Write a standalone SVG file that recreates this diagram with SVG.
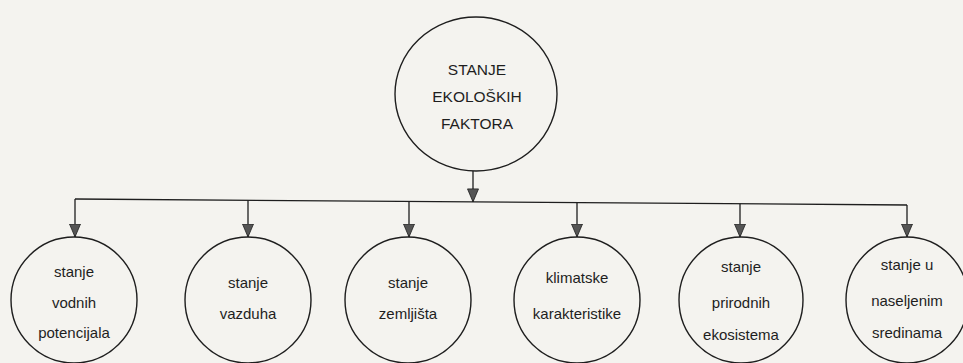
<svg xmlns="http://www.w3.org/2000/svg" width="963" height="363" viewBox="0 0 963 363">
<defs>
<style>
.bg{fill:#f4f3ef}
.node{fill:none;stroke:#1e1e1e;stroke-width:1.4}
.t{font-family:"Liberation Sans",Arial,sans-serif;font-size:15px;fill:#1e1e1e;text-anchor:middle}
.tt{font-family:"Liberation Sans",Arial,sans-serif;font-size:15.5px;fill:#1e1e1e;text-anchor:middle}
.c{fill:none;stroke:#1e1e1e;stroke-width:1.3}
</style>
<marker id="ah" markerWidth="14" markerHeight="12" viewBox="0 0 14 12" refX="13.5" refY="6" orient="auto" markerUnits="userSpaceOnUse">
<path d="M0.5,0.5 L0.5,11.5 L13.5,6 Z" fill="#555" stroke="#1e1e1e" stroke-width="0.8"/>
</marker>
</defs>
<rect class="bg" x="0" y="0" width="963" height="363"/>
<g id="connectors">
<line class="c" x1="473" y1="171" x2="473" y2="201.9" marker-end="url(#ah)"/>
<line class="c" x1="75" y1="199" x2="907" y2="205"/>
<line class="c" x1="75" y1="199" x2="75" y2="237" marker-end="url(#ah)"/>
<line class="c" x1="248" y1="200.2" x2="248" y2="237" marker-end="url(#ah)"/>
<line class="c" x1="409" y1="201.4" x2="409" y2="237" marker-end="url(#ah)"/>
<line class="c" x1="577" y1="202.6" x2="577" y2="237" marker-end="url(#ah)"/>
<line class="c" x1="740" y1="203.8" x2="740" y2="237" marker-end="url(#ah)"/>
<line class="c" x1="907" y1="205" x2="907" y2="237" marker-end="url(#ah)"/>
</g>
<g id="root">
<ellipse class="node" cx="476" cy="94" rx="81" ry="77"/>
<text class="tt" x="477" y="75">STANJE</text>
<text class="tt" x="477" y="102">EKOLOŠKIH</text>
<text class="tt" x="477" y="129">FAKTORA</text>
</g>
<g id="n1">
<ellipse class="node" cx="74" cy="300" rx="63" ry="63"/>
<text class="t" x="74" y="277">stanje</text>
<text class="t" x="74" y="308">vodnih</text>
<text class="t" x="74" y="338">potencijala</text>
</g>
<g id="n2">
<ellipse class="node" cx="248" cy="300" rx="63" ry="63"/>
<text class="t" x="248" y="288">stanje</text>
<text class="t" x="248" y="319">vazduha</text>
</g>
<g id="n3">
<ellipse class="node" cx="408" cy="300" rx="63" ry="63"/>
<text class="t" x="408" y="288">stanje</text>
<text class="t" x="408" y="319">zemljišta</text>
</g>
<g id="n4">
<ellipse class="node" cx="577" cy="300" rx="63" ry="63"/>
<text class="t" x="577" y="283">klimatske</text>
<text class="t" x="577" y="319">karakteristike</text>
</g>
<g id="n5">
<ellipse class="node" cx="741" cy="300" rx="62" ry="63"/>
<text class="t" x="741" y="272">stanje</text>
<text class="t" x="741" y="308">prirodnih</text>
<text class="t" x="741" y="340">ekosistema</text>
</g>
<g id="n6">
<ellipse class="node" cx="907" cy="300" rx="61" ry="63"/>
<text class="t" x="907" y="270">stanje u</text>
<text class="t" x="907" y="306">naseljenim</text>
<text class="t" x="907" y="338">sredinama</text>
</g>
</svg>
